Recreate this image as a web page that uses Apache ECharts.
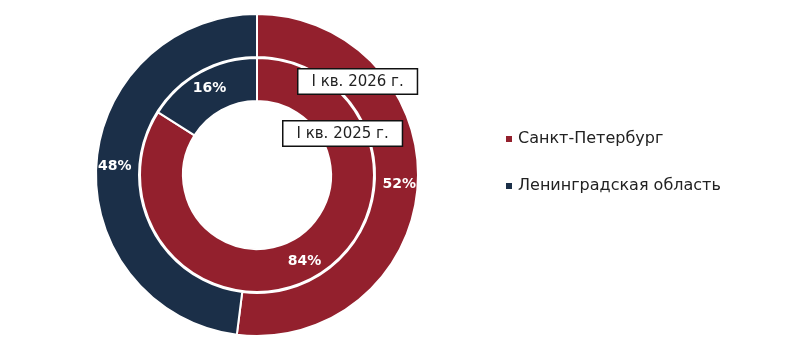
<!DOCTYPE html>
<html><head><meta charset="utf-8">
<script src="https://cdn.jsdelivr.net/npm/echarts@6/dist/echarts.min.js"></script>
<style>html,body{margin:0;padding:0;background:#fff}#c{width:800px;height:351px}</style>
</head><body><div id="c"></div>
<script>
var categories = ['Санкт-Петербург', 'Ленинградская область'];
var values2026 = [52, 48];
var values2025 = [84, 16];
var periodLabels = ['I кв. 2026 г.', 'I кв. 2025 г.'];
var colors = ['#93202D', '#1B2F48'];

var chart = echarts.init(document.getElementById('c'));
function mk(vals) { return categories.map(function (c, i) { return { name: c, value: vals[i] }; }); }
var lbl = { show: true, position: 'inside', formatter: '{c}%', color: '#fff', fontFamily: 'DejaVu Sans', fontWeight: 'bold', fontSize: 14 };
var font = 'DejaVu Sans';
chart.setOption({
  color: colors,
  animation: false,
  legend: {
    orient: 'vertical', left: 499, top: 126, itemGap: 31,
    icon: 'rect', itemWidth: 8, itemHeight: 8,
    textStyle: { fontFamily: font, fontSize: 16, color: '#222' },
    data: categories
  },
  series: [
    { type: 'pie', center: [257, 175], radius: [118, 161], startAngle: 90, clockwise: true,
      itemStyle: { borderColor: '#fff', borderWidth: 2 }, label: lbl, labelLine: { show: false },
      emphasis: { disabled: true }, data: mk(values2026) },
    { type: 'pie', center: [257, 175], radius: [74, 117], startAngle: 90, clockwise: true,
      itemStyle: { borderColor: '#fff', borderWidth: 2 }, label: lbl, labelLine: { show: false },
      emphasis: { disabled: true }, data: mk(values2025) }
  ],
  graphic: [
    { type: 'text', left: 297, top: 68, z: 100,
      style: { text: periodLabels[0], fontFamily: font, fontSize: 15, fill: '#222',
        backgroundColor: '#fff', borderColor: '#111', borderWidth: 1.5, padding: [5, 13, 4, 13] } },
    { type: 'text', left: 282, top: 120, z: 100,
      style: { text: periodLabels[1], fontFamily: font, fontSize: 15, fill: '#222',
        backgroundColor: '#fff', borderColor: '#111', borderWidth: 1.5, padding: [5, 13, 4, 13] } }
  ]
});
</script></body></html>
